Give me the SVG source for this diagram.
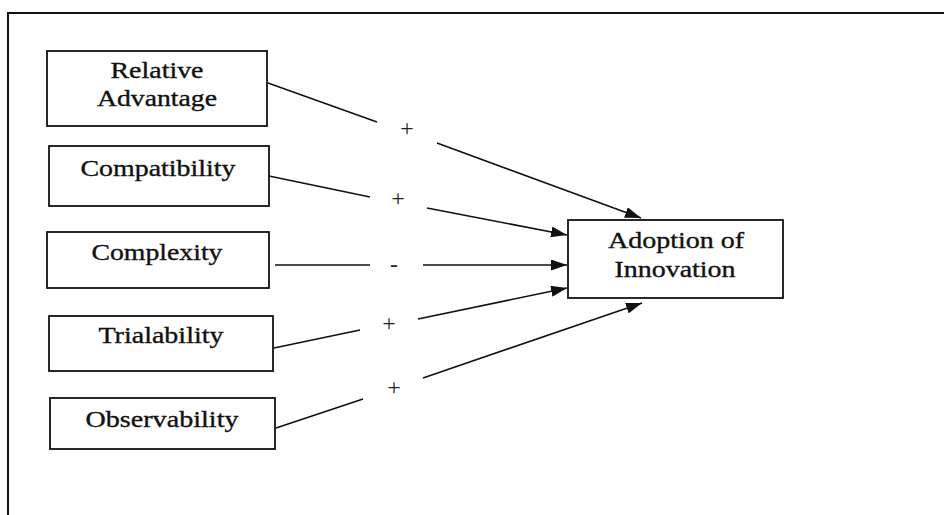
<svg xmlns="http://www.w3.org/2000/svg" width="944" height="515" viewBox="0 0 944 515">
<style>
.box{fill:#fff;stroke:#111;stroke-width:1.8}
.lbl{font-family:"Liberation Serif","Times New Roman",serif;font-size:23px;fill:#111;stroke:#111;stroke-width:0.35;text-anchor:middle}
.sign{font-family:"Liberation Serif","Times New Roman",serif;font-size:24px;fill:#222;text-anchor:middle}
.conn{stroke:#111;stroke-width:1.6;fill:none}
</style>
<defs>
<marker id="ah" viewBox="0 0 16 11" refX="16" refY="5.5" markerWidth="16" markerHeight="11" markerUnits="userSpaceOnUse" orient="auto">
<path d="M0,0 L16,5.5 L0,11 Z" fill="#111"/>
</marker>
</defs>
<rect width="944" height="515" fill="#fff"/>
<path d="M8,515 V13 H944" fill="none" stroke="#111" stroke-width="2"/>

<g id="relative-advantage">
<rect class="box" x="47" y="51" width="220" height="75"/>
<text class="lbl" x="157" y="78" textLength="93" lengthAdjust="spacingAndGlyphs">Relative</text>
<text class="lbl" x="157" y="106" textLength="120" lengthAdjust="spacingAndGlyphs">Advantage</text>
</g>
<g id="compatibility">
<rect class="box" x="49" y="146" width="220" height="60"/>
<text class="lbl" x="158" y="176" textLength="155" lengthAdjust="spacingAndGlyphs">Compatibility</text>
</g>
<g id="complexity">
<rect class="box" x="47" y="232" width="222" height="56"/>
<text class="lbl" x="157" y="260" textLength="131" lengthAdjust="spacingAndGlyphs">Complexity</text>
</g>
<g id="trialability">
<rect class="box" x="49" y="316" width="224" height="55"/>
<text class="lbl" x="161" y="343" textLength="125" lengthAdjust="spacingAndGlyphs">Trialability</text>
</g>
<g id="observability">
<rect class="box" x="50" y="398" width="225" height="51"/>
<text class="lbl" x="162" y="427" textLength="153" lengthAdjust="spacingAndGlyphs">Observability</text>
</g>
<g id="adoption">
<rect class="box" x="568" y="220" width="215" height="78"/>
<text class="lbl" x="676" y="248" textLength="136" lengthAdjust="spacingAndGlyphs">Adoption of</text>
<text class="lbl" x="675" y="277" textLength="121" lengthAdjust="spacingAndGlyphs">Innovation</text>
</g>

<g id="connectors">
<line class="conn" x1="268" y1="83" x2="377" y2="122"/>
<line class="conn" x1="437" y1="143" x2="641" y2="218" marker-end="url(#ah)"/>
<line class="conn" x1="269" y1="176" x2="370" y2="197"/>
<line class="conn" x1="427" y1="208" x2="567" y2="235" marker-end="url(#ah)"/>
<line class="conn" x1="275" y1="265" x2="370" y2="265"/>
<line class="conn" x1="423" y1="265" x2="567" y2="265" marker-end="url(#ah)"/>
<line class="conn" x1="274" y1="348" x2="360" y2="330"/>
<line class="conn" x1="418" y1="319" x2="567" y2="288" marker-end="url(#ah)"/>
<line class="conn" x1="276" y1="428" x2="363" y2="399"/>
<line class="conn" x1="423" y1="378" x2="642" y2="303" marker-end="url(#ah)"/>
<text class="sign" x="407" y="136">+</text>
<text class="sign" x="398" y="206">+</text>
<text class="sign" x="394" y="272">-</text>
<text class="sign" x="389" y="331">+</text>
<text class="sign" x="394" y="395">+</text>
</g>
</svg>
